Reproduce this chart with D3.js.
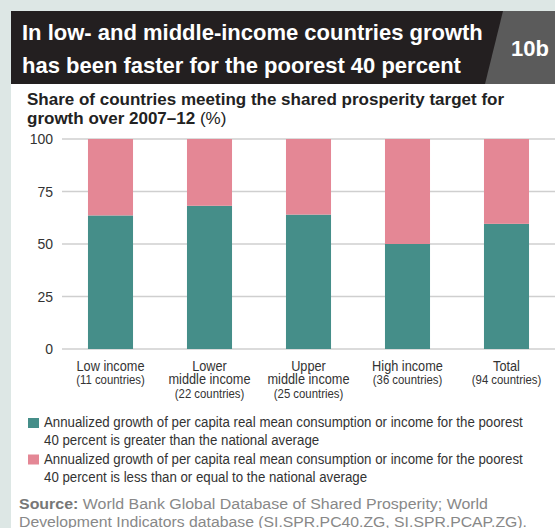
<!DOCTYPE html>
<html><head><meta charset="utf-8">
<script src="https://cdn.jsdelivr.net/npm/d3@7"></script>
<style>
body{margin:0;padding:0;background:#fff;}
svg{display:block;}
</style></head>
<body>
<svg id="chart" width="555" height="528"></svg>
<script>
const categories = ["Low income", "Lower middle income", "Upper middle income", "High income", "Total"];
const categoryLines = [["Low income"], ["Lower", "middle income"], ["Upper", "middle income"], ["High income"], ["Total"]];
const countLabels = ["(11 countries)", "(22 countries)", "(25 countries)", "(36 countries)", "(94 countries)"];
const greaterValues = [63.6, 68.2, 64.0, 50.0, 59.6];
const lessEqualValues = [36.4, 31.8, 36.0, 50.0, 40.4];
const yTicks = [0, 25, 50, 75, 100];
const seriesNames = [
  ["Annualized growth of per capita real mean consumption or income for the poorest", "40 percent is greater than the national average"],
  ["Annualized growth of per capita real mean consumption or income for the poorest", "40 percent is less than or equal to the national average"]
];
const titleLines = ["In low- and middle-income countries growth", "has been faster for the poorest 40 percent"];
const colors = ["#458e89", "#e48795"];

const svg = d3.select("#chart");
const sans = "'Liberation Sans', Arial, sans-serif";

// horizontally condense a text element around its anchor point
function condense(sel, f){
  sel.each(function(){
    const t = d3.select(this);
    const x0 = +t.attr("x"), y0 = +t.attr("y");
    t.attr("x",0).attr("y",0).attr("transform",`translate(${x0},${y0}) scale(${f},1)`);
  });
}

// background frame
svg.append("rect").attr("x",0).attr("y",0).attr("width",555).attr("height",528).attr("fill","#dde7e5");
svg.append("rect").attr("x",11).attr("y",11).attr("width",544).attr("height",517).attr("fill","#ffffff");

// header
svg.append("rect").attr("x",11).attr("y",11).attr("width",544).attr("height",73).attr("fill","#5b5b5b");
svg.append("path").attr("d","M11,11 L503,11 L485,84 L11,84 Z").attr("fill","#231f20");
svg.append("g").selectAll("text").data(titleLines).join("text")
  .attr("x",22).attr("y",(d,i)=>40+i*32.5)
  .attr("fill","#fff").attr("font-family",sans).attr("font-weight","bold").attr("font-size",22)
  .text(d=>d);
svg.append("text").attr("x",530).attr("y",56).attr("text-anchor","middle")
  .attr("fill","#fff").attr("font-family",sans).attr("font-weight","bold").attr("font-size",22).text("10b");

// subtitle
svg.append("text").attr("x",27).attr("y",105).attr("fill","#222").attr("font-family",sans)
  .attr("font-weight","bold").attr("font-size",17).text("Share of countries meeting the shared prosperity target for");
const st2 = svg.append("text").attr("x",27).attr("y",124).attr("fill","#222").attr("font-family",sans).attr("font-size",17);
st2.append("tspan").attr("font-weight","bold").text("growth over 2007–12 ");
st2.append("tspan").text("(%)");

// scales
const x = d3.scaleBand().domain(categories).range([61,556]).paddingInner(0.545).paddingOuter(0.2725);
const y = d3.scaleLinear().domain([0,100]).range([349,139]);

// grid
svg.append("g").selectAll("line").data(yTicks).join("line")
  .attr("x1",62).attr("x2",555).attr("y1",d=>y(d)).attr("y2",d=>y(d))
  .attr("stroke","#cfcfcf").attr("stroke-width",1.3);

// y axis labels
const yAxis = d3.axisLeft(y).tickValues(yTicks).tickSize(0).tickPadding(0);
const ya = svg.append("g").attr("transform","translate(53,0)").call(yAxis);
ya.select(".domain").remove();
ya.selectAll("text").attr("font-family",sans).attr("font-size",14).attr("fill","#333").attr("dy","0.35em");

// bars
const stackData = categories.map((c,i)=>({cat:c, greater:greaterValues[i], less:lessEqualValues[i]}));
const stack = d3.stack().keys(["greater","less"])(stackData);
svg.append("g").selectAll("g").data(stack).join("g").attr("fill",(d,i)=>colors[i])
  .selectAll("rect").data(d=>d).join("rect")
  .attr("x",d=>x(d.data.cat)).attr("width",x.bandwidth())
  .attr("y",d=>y(d[1])).attr("height",d=>y(d[0])-y(d[1]));

// x labels (one text per category, lines as tspans)
const xl = svg.append("g");
categories.forEach((c,i)=>{
  const cx = x(c)+x.bandwidth()/2;
  const lines = categoryLines[i];
  const t = xl.append("text").attr("x",cx).attr("y",371).attr("text-anchor","middle")
    .attr("font-family",sans).attr("fill","#333");
  condense(t,0.91);
  lines.forEach((l,j)=>{
    t.append("tspan").attr("x",0).attr("y",j*13.5).attr("font-size",14).text(l);
  });
  t.append("tspan").attr("x",0).attr("y",lines.length*13.5).attr("font-size",12.5)
    .attr("transform",null).text(countLabels[i]);
});

// legend
const lg = svg.append("g");
let legendFactor = null;
seriesNames.forEach((lines,i)=>{
  const top = 418 + i*36.5;
  lg.append("rect").attr("x",28).attr("y",top).attr("width",11).attr("height",10).attr("fill",colors[i]);
  lines.forEach((l,j)=>{
    const t = lg.append("text").attr("x",44).attr("y",top+9+j*18).attr("font-family",sans)
      .attr("font-size",15).attr("fill","#333").text(l);
    if(legendFactor===null){ legendFactor = 479 / t.node().getComputedTextLength(); }
    condense(t, legendFactor);
  });
});

// source
const s1 = svg.append("text").attr("x",19).attr("y",509).attr("font-family",sans).attr("font-size",15.5).attr("fill","#888");
s1.append("tspan").attr("font-weight","bold").attr("fill","#777").text("Source:");
s1.append("tspan").text(" World Bank Global Database of Shared Prosperity; World");
s1.attr("textLength",469).attr("lengthAdjust","spacingAndGlyphs");
svg.append("text").attr("x",19).attr("y",526.5).attr("font-family",sans).attr("font-size",15.5).attr("fill","#888")
  .attr("textLength",508).attr("lengthAdjust","spacingAndGlyphs")
  .text("Development Indicators database (SI.SPR.PC40.ZG, SI.SPR.PCAP.ZG).");
</script>
</body></html>
